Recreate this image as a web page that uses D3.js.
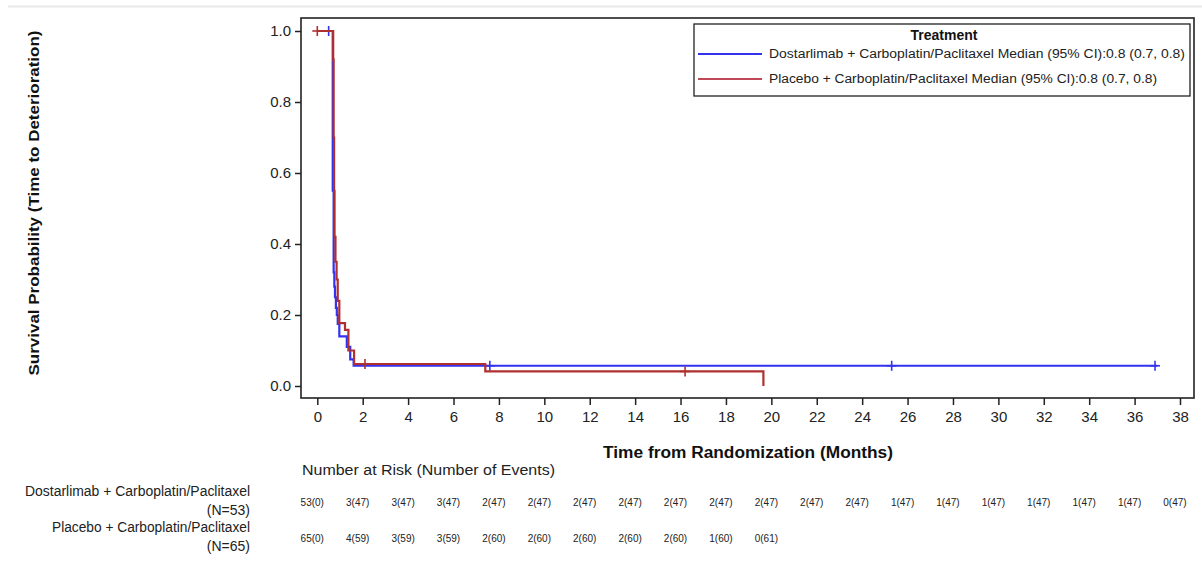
<!DOCTYPE html>
<html>
<head>
<meta charset="utf-8">
<script src="https://cdn.jsdelivr.net/npm/d3@7"></script>
<style>
  body { margin: 0; background: #fff; }
  svg { display: block; font-family: "Liberation Sans", Arial, sans-serif; }
</style>
</head>
<body>
<svg id="chart" width="1202" height="566"></svg>
<script>
// step curves (time in months, survival probability)
const dostTimes = [0, 0.68, 0.72, 0.75, 0.78, 0.82, 0.86, 0.9, 0.97, 1.3, 1.45, 1.6, 37];
const dostSurv = [1.0, 0.55, 0.32, 0.28, 0.25, 0.22, 0.2, 0.175, 0.14, 0.11, 0.075, 0.057, 0.057];
const dostCensor = [[0.5, 1.0], [7.6, 0.057], [25.3, 0.057], [36.9, 0.057]];

const placTimes = [0, 0.7, 0.72, 0.74, 0.76, 0.8, 0.85, 0.9, 0.97, 1.22, 1.37, 1.62, 7.4, 19.65];
const placSurv = [1.0, 0.92, 0.7, 0.55, 0.42, 0.35, 0.3, 0.24, 0.177, 0.158, 0.10, 0.062, 0.041, 0];
const placCensor = [[0, 1.0], [2.1, 0.062], [16.2, 0.041]];

const xTicks = d3.range(0, 39, 2);
const yTicks = [0, 0.2, 0.4, 0.6, 0.8, 1.0];

const dostRisk = ["53(0)", "3(47)", "3(47)", "3(47)", "2(47)", "2(47)", "2(47)", "2(47)", "2(47)", "2(47)",
  "2(47)", "2(47)", "2(47)", "1(47)", "1(47)", "1(47)", "1(47)", "1(47)", "1(47)", "0(47)"];
const placRisk = ["65(0)", "4(59)", "3(59)", "3(59)", "2(60)", "2(60)", "2(60)", "2(60)", "2(60)", "1(60)", "0(61)"];

const legendLabels = [
  "Dostarlimab + Carboplatin/Paclitaxel Median (95% CI):0.8 (0.7, 0.8)",
  "Placebo + Carboplatin/Paclitaxel Median (95% CI):0.8 (0.7, 0.8)"
];
const blue = "#3333ee";
const red = "#b0302f";

const svg = d3.select("#chart");

// thin grey line at the very top
svg.append("line")
  .attr("x1", 8).attr("x2", 1202).attr("y1", 6.5).attr("y2", 6.5)
  .attr("stroke", "#e8e8e8").attr("stroke-width", 2);

const frame = { left: 301, top: 18, right: 1194, bottom: 398 };

const x = d3.scaleLinear().domain([0, 38]).range([317.3, 1180]);
const y = d3.scaleLinear().domain([0, 1]).range([386, 31]);

// frame
svg.append("rect")
  .attr("x", frame.left).attr("y", frame.top)
  .attr("width", frame.right - frame.left).attr("height", frame.bottom - frame.top)
  .attr("fill", "none").attr("stroke", "#222").attr("stroke-width", 1.6);

// axes
const yAxis = svg.append("g")
  .attr("transform", `translate(${frame.left},0)`)
  .call(d3.axisLeft(y).tickValues(yTicks).tickFormat(d3.format(".1f")).tickSize(6).tickSizeOuter(0));
yAxis.select(".domain").remove();
yAxis.selectAll("line").attr("stroke", "#222").attr("stroke-width", 1.5);
yAxis.selectAll("text").attr("font-size", 15).attr("fill", "#222").attr("font-family", "Liberation Sans, Arial")
  .attr("x", -10);

const xAxis = svg.append("g")
  .attr("transform", `translate(0,${frame.bottom})`)
  .call(d3.axisBottom(x).tickValues(xTicks).tickSize(7).tickSizeOuter(0));
xAxis.select(".domain").remove();
xAxis.selectAll("line").attr("stroke", "#222").attr("stroke-width", 1.5);
xAxis.selectAll("text").attr("font-size", 15).attr("fill", "#222").attr("font-family", "Liberation Sans, Arial")
  .attr("y", 13);

// axis titles
svg.append("text")
  .attr("x", 748).attr("y", 458)
  .attr("text-anchor", "middle").attr("font-weight", "bold").attr("font-size", 16)
  .attr("textLength", 290).attr("lengthAdjust", "spacingAndGlyphs")
  .attr("fill", "#111")
  .text("Time from Randomization (Months)");

svg.append("text")
  .attr("transform", "translate(39,203) rotate(-90)")
  .attr("text-anchor", "middle").attr("font-weight", "bold").attr("font-size", 15)
  .attr("textLength", 345).attr("lengthAdjust", "spacingAndGlyphs")
  .attr("fill", "#111")
  .text("Survival Probability (Time to Deterioration)");

// curves
const stepLine = d3.line().x(d => x(d[0])).y(d => y(d[1])).curve(d3.curveStepAfter);

function drawArm(times, surv, censor, color) {
  const pts = times.map((t, i) => [t, surv[i]]);
  svg.append("path")
    .datum(pts)
    .attr("d", stepLine)
    .attr("fill", "none")
    .attr("stroke", color)
    .attr("stroke-width", 2.2);
  const g = svg.append("g");
  censor.forEach(c => {
    const cx = x(c[0]), cy = y(c[1]);
    g.append("line").attr("x1", cx - 5).attr("x2", cx + 5).attr("y1", cy).attr("y2", cy)
      .attr("stroke", color).attr("stroke-width", 1.6);
    g.append("line").attr("x1", cx).attr("x2", cx).attr("y1", cy - 5).attr("y2", cy + 5)
      .attr("stroke", color).attr("stroke-width", 1.6);
  });
}
drawArm(dostTimes, dostSurv, dostCensor, blue);
drawArm(placTimes, placSurv, placCensor, red);

// legend
const lg = svg.append("g");
lg.append("rect")
  .attr("x", 694).attr("y", 24).attr("width", 496).attr("height", 72)
  .attr("fill", "#fff").attr("stroke", "#222").attr("stroke-width", 1.3);
lg.append("text")
  .attr("x", 944).attr("y", 40)
  .attr("text-anchor", "middle").attr("font-weight", "bold").attr("font-size", 14)
  .attr("fill", "#111").text("Treatment");
[blue, "#c04858"].forEach((c, i) => {
  const yy = 54 + i * 25;
  lg.append("line").attr("x1", 698).attr("x2", 762).attr("y1", yy).attr("y2", yy)
    .attr("stroke", c).attr("stroke-width", 2.2);
  lg.append("text").attr("x", 769).attr("y", yy + 4)
    .attr("font-size", 12).attr("fill", "#222")
    .attr("textLength", i === 0 ? 416 : 388).attr("lengthAdjust", "spacingAndGlyphs")
    .text(legendLabels[i]);
});

// number at risk table
svg.append("text")
  .attr("x", 302).attr("y", 475)
  .attr("font-size", 14).attr("fill", "#222")
  .attr("textLength", 253).attr("lengthAdjust", "spacingAndGlyphs")
  .text("Number at Risk (Number of Events)");

const rows = [
  { label: "Dostarlimab + Carboplatin/Paclitaxel", n: "(N=53)", values: dostRisk, y: 502, w: 225 },
  { label: "Placebo + Carboplatin/Paclitaxel", n: "(N=65)", values: placRisk, y: 538, w: 198 }
];
rows.forEach(r => {
  svg.append("text").attr("x", 250).attr("y", r.y - 6)
    .attr("text-anchor", "end").attr("font-size", 14).attr("fill", "#222")
    .attr("textLength", r.w).attr("lengthAdjust", "spacingAndGlyphs")
    .text(r.label);
  svg.append("text").attr("x", 250).attr("y", r.y + 13)
    .attr("text-anchor", "end").attr("font-size", 14).attr("fill", "#222").text(r.n);
  svg.append("g").selectAll("text")
    .data(r.values)
    .join("text")
    .attr("x", (d, i) => x(xTicks[i]) - 5)
    .attr("y", r.y + 4)
    .attr("text-anchor", "middle")
    .attr("font-size", 10)
    .attr("font-family", "Liberation Sans Narrow, Liberation Sans, Arial")
    .attr("fill", "#222")
    .text(d => d);
});
</script>
</body>
</html>
